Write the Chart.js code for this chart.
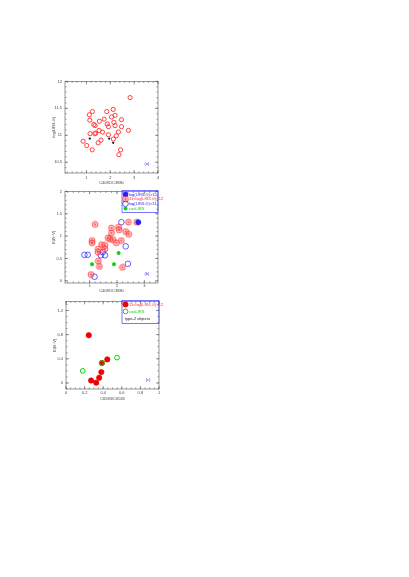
<!DOCTYPE html>
<html>
<head>
<meta charset="utf-8">
<script src="https://cdn.jsdelivr.net/npm/chart.js@4/dist/chart.umd.min.js"></script>
<style>
  body { margin: 0; background: #fff; width: 409px; height: 577px; position: relative; overflow: hidden; }
  canvas { position: absolute; left: 0; }
</style>
</head>
<body>
<canvas id="pannelloA" width="409" height="112" style="top:76px"></canvas>
<canvas id="pannelloB" width="409" height="108" style="top:186px"></canvas>
<canvas id="pannelloC" width="409" height="108" style="top:296px"></canvas>
<script>
// pannello (a): log(LIR) contro C4081/C3880
const xA = [2.83, 2.12, 1.25, 1.85, 1.12, 2.20, 2.05, 1.74, 2.47, 1.14, 1.54, 2.15, 1.31, 1.36, 1.87, 2.20, 2.47, 1.92,
            1.53, 2.76, 1.67, 2.34, 1.39, 1.15, 1.35, 1.92, 2.25, 2.13, 1.61, 0.86, 1.49, 1.01, 1.24, 2.43, 2.36];
const yA = [11.70, 11.48, 11.44, 11.44, 11.38, 11.37, 11.34, 11.30, 11.29, 11.28, 11.26, 11.24, 11.20, 11.18, 11.21, 11.18, 11.16, 11.16,
            11.09, 11.09, 11.06, 11.06, 11.04, 11.03, 11.03, 11.01, 10.99, 10.93, 10.91, 10.89, 10.86, 10.81, 10.73, 10.73, 10.64];
// limiti superiori (frecce nere)
const xLimA = [1.14, 1.95, 2.12];
const yLimA = [10.94, 10.94, 10.86];
const tickXA = [1, 2, 3, 4];
const tickYA = [10.5, 11, 11.5, 12];

// pannello (b): E(B-V) contro C4081/C3880
const xBrossi = [1.20, 2.42, 2.72, 1.80, 2.06, 2.08, 1.80, 2.32, 2.43, 1.09, 1.09, 1.68, 1.74, 1.86, 2.16, 1.98, 1.44,
                 1.56, 1.32, 1.56, 1.30, 1.32, 1.36, 2.20, 1.05];
const yBrossi = [1.26, 1.31, 1.31, 1.18, 1.20, 1.14, 1.07, 1.10, 1.04, 0.90, 0.85, 0.96, 0.93, 0.92, 0.90, 0.85, 0.81,
                 0.79, 0.71, 0.71, 0.64, 0.44, 0.32, 0.30, 0.14];
const xBpieni = [2.78];
const yBpieni = [1.31];
const xBvuoti = [2.16, 2.32, 0.81, 0.93, 1.48, 1.41, 1.56, 2.40, 1.18];
const yBvuoti = [1.31, 0.77, 0.58, 0.58, 0.64, 0.57, 0.57, 0.38, 0.09];
const xBverdi = [2.06, 1.09, 1.89];
const yBverdi = [0.62, 0.37, 0.37];
const tickXB = [1, 2, 3];
const tickYB = [0, 0.5, 1, 1.5, 2];

// pannello (c): E(B-V) contro C6583/C6563
const xCrossi = [0.245, 0.444, 0.386, 0.38, 0.357, 0.27, 0.325];
const yCrossi = [0.79, 0.39, 0.33, 0.18, 0.086, 0.04, 0.005];
const xCverdi = [0.548, 0.386, 0.18];
const yCverdi = [0.42, 0.33, 0.20];
const tickXC = [0, 0.2, 0.4, 0.6, 0.8, 1];
const tickYC = [0, 0.4, 0.8, 1.2];

const ROSSO = "rgb(255,45,45)";
const BLU = "rgb(30,30,255)";
const VERDE = "rgb(0,215,0)";
const FONT = "'Liberation Sans', 'DejaVu Sans', sans-serif";
const GRIGIO = "#444";

const punti = (xs, ys) => xs.map((x, i) => ({ x: x, y: ys[i] }));

// cerchio rosso con stellina dentro (pannello b)
function marcaStella() {
    const c = document.createElement("canvas");
    c.width = 8; c.height = 8;
    const g = c.getContext("2d");
    g.strokeStyle = ROSSO;
    g.fillStyle = "rgba(255,150,150,0.25)";
    g.lineWidth = 0.8;
    g.beginPath(); g.arc(4, 4, 2.9, 0, Math.PI * 2); g.fill(); g.stroke();
    g.lineWidth = 0.6;
    for (let k = 0; k < 3; k++) {
        const a = k * Math.PI / 3 + Math.PI / 2;
        g.beginPath();
        g.moveTo(4 - 1.5 * Math.cos(a), 4 - 1.5 * Math.sin(a));
        g.lineTo(4 + 1.5 * Math.cos(a), 4 + 1.5 * Math.sin(a));
        g.stroke();
    }
    return c;
}

// cornice con tacche verso l'interno sui 4 lati, etichetta e legenda
const cornice = {
    id: "cornice",
    beforeDatasetsDraw(chart, args, o) {
        const { ctx, chartArea: a, scales: { x, y } } = chart;
        ctx.save();
        ctx.strokeStyle = "#555";
        ctx.lineWidth = 0.6;
        ctx.strokeRect(a.left, a.top, a.right - a.left, a.bottom - a.top);
        const tacche = (scala, passo, lung, orizz) => {
            const i0 = Math.ceil(scala.min / passo - 1e-6), i1 = Math.floor(scala.max / passo + 1e-6);
            for (let i = i0; i <= i1; i++) {
                const p = scala.getPixelForValue(i * passo);
                ctx.beginPath();
                if (orizz) {
                    ctx.moveTo(p, a.bottom); ctx.lineTo(p, a.bottom - lung);
                    ctx.moveTo(p, a.top); ctx.lineTo(p, a.top + lung);
                } else {
                    ctx.moveTo(a.left, p); ctx.lineTo(a.left + lung, p);
                    ctx.moveTo(a.right, p); ctx.lineTo(a.right - lung, p);
                }
                ctx.stroke();
            }
        };
        tacche(x, o.minX, 1.5, true);
        tacche(x, o.maxX, 3, true);
        tacche(y, o.minY, 1.5, false);
        tacche(y, o.maxY, 3, false);
        ctx.restore();
    },
    afterDraw(chart, args, o) {
        const { ctx, chartArea: a } = chart;
        ctx.save();
        ctx.font = "4px " + FONT;
        ctx.fillStyle = BLU;
        ctx.textAlign = "center";
        ctx.textBaseline = "middle";
        ctx.fillText(o.etichetta, a.right - 11, a.bottom - 9);
        if (o.voci) {
            const x0 = a.right - o.larghezza, y0 = a.top - 1;
            ctx.strokeStyle = BLU;
            ctx.lineWidth = 0.6;
            ctx.strokeRect(x0, y0, o.larghezza, o.altezza);
            ctx.textAlign = "left";
            o.voci.forEach((v, i) => {
                const y = y0 + o.primo + i * o.passo;
                if (v.dataset != null) {
                    const ds = chart.data.datasets[v.dataset];
                    ctx.fillStyle = ds.backgroundColor;
                    ctx.strokeStyle = ds.borderColor;
                    ctx.lineWidth = ds.borderWidth;
                    Chart.helpers.drawPoint(ctx, { pointStyle: ds.pointStyle, radius: ds.pointRadius, rotation: 0, borderWidth: ds.borderWidth }, x0 + 3.5, y);
                }
                ctx.fillStyle = v.colore;
                ctx.fillText(v.testo, x0 + (v.dataset != null ? 7 : 3), y);
            });
        }
        ctx.restore();
    }
};
Chart.register(cornice);

function opzioni(p) {
    const fTick = { size: 4, family: FONT };
    return {
        responsive: false,
        animation: false,
        events: [],
        layout: { padding: p.padding },
        plugins: {
            legend: { display: false },
            tooltip: { enabled: false },
            cornice: p.cornice
        },
        scales: {
            x: {
                type: "linear", min: p.xMin, max: p.xMax,
                grid: { display: false, drawTicks: false },
                border: { display: false },
                afterBuildTicks: s => { s.ticks = p.tickX.map(v => ({ value: v })); },
                afterFit: s => { s.height = p.altX; },
                ticks: { autoSkip: false, maxRotation: 0, padding: p.padTickX, font: fTick, color: GRIGIO, callback: v => String(v) },
                title: { display: true, text: p.titoloX, font: fTick, color: GRIGIO, padding: { top: 0, bottom: p.padTitoloX } }
            },
            y: {
                type: "linear", min: p.yMin, max: p.yMax,
                grid: { display: false, drawTicks: false },
                border: { display: false },
                afterBuildTicks: s => { s.ticks = p.tickY.map(v => ({ value: v })); },
                afterFit: s => { s.width = 25; },
                ticks: { autoSkip: false, padding: 3, font: fTick, color: GRIGIO, callback: v => String(v) },
                title: { display: true, text: p.titoloY, font: fTick, color: GRIGIO, padding: { top: 11.6, bottom: 0 } }
            }
        }
    };
}

const LOGLIR = "log(LIR/L\u2299)";

new Chart(document.getElementById("pannelloA"), {
    type: "scatter",
    data: {
        datasets: [
            { data: punti(xA, yA), pointStyle: "circle", pointRadius: 2.1, borderWidth: 0.9,
              borderColor: ROSSO, backgroundColor: "rgba(0,0,0,0)" },
            { data: punti(xLimA, yLimA), pointStyle: "triangle", rotation: 180, pointRadius: 1.2, borderWidth: 0.5,
              borderColor: "#000", backgroundColor: "#000" }
        ]
    },
    options: opzioni({
        padding: { left: 40, right: 251, top: 5, bottom: 0 },
        xMin: 0.1, xMax: 4, yMin: 10.3, yMax: 12,
        tickX: tickXA, tickY: tickYA, altX: 15, padTickX: 2, padTitoloX: 3,
        titoloX: "C4081/C3880", titoloY: LOGLIR,
        cornice: { minX: 0.2, maxX: 1, minY: 0.1, maxY: 0.5, etichetta: "(a)" }
    })
});

new Chart(document.getElementById("pannelloB"), {
    type: "scatter",
    data: {
        datasets: [
            { data: punti(xBpieni, yBpieni), pointStyle: "circle", pointRadius: 2.5, borderWidth: 0.8,
              borderColor: BLU, backgroundColor: BLU },
            { data: punti(xBrossi, yBrossi), pointStyle: marcaStella(), pointRadius: 3, borderWidth: 0.8,
              borderColor: ROSSO, backgroundColor: "rgba(255,150,150,0.25)" },
            { data: punti(xBvuoti, yBvuoti), pointStyle: "circle", pointRadius: 2.8, borderWidth: 0.7,
              borderColor: BLU, backgroundColor: "rgba(0,0,0,0)" },
            { data: punti(xBverdi, yBverdi), pointStyle: "circle", pointRadius: 1.7, borderWidth: 0.6,
              borderColor: VERDE, backgroundColor: VERDE }
        ]
    },
    options: opzioni({
        padding: { left: 40, right: 251, top: 4, bottom: 0 },
        xMin: 0.1, xMax: 3.5, yMin: -0.05, yMax: 2,
        tickX: tickXB, tickY: tickYB, altX: 11, padTickX: 0.6, padTitoloX: 1,
        titoloX: "C4081/C3880", titoloY: "E(B\u2212V)",
        cornice: {
            minX: 0.2, maxX: 1, minY: 0.1, maxY: 0.5, etichetta: "(b)",
            larghezza: 36, altezza: 22, primo: 4, passo: 4.7,
            voci: [
                { dataset: 0, testo: LOGLIR + ">12", colore: BLU },
                { dataset: 1, testo: "11<" + LOGLIR + "<12", colore: ROSSO },
                { dataset: 2, testo: LOGLIR + "<11", colore: BLU },
                { dataset: 3, testo: "cool-IRS", colore: VERDE }
            ]
        }
    })
});

new Chart(document.getElementById("pannelloC"), {
    type: "scatter",
    data: {
        datasets: [
            { data: punti(xCverdi, yCverdi), pointStyle: "circle", pointRadius: 2.4, borderWidth: 1,
              borderColor: VERDE, backgroundColor: "rgba(0,0,0,0)" },
            { data: punti(xCrossi, yCrossi), pointStyle: "circle", pointRadius: 2.7, borderWidth: 0.6,
              borderColor: "rgb(235,0,0)", backgroundColor: "rgb(240,0,0)" }
        ]
    },
    options: opzioni({
        padding: { left: 41, right: 250, top: 4, bottom: 0 },
        xMin: 0, xMax: 1, yMin: -0.1, yMax: 1.35,
        tickX: tickXC, tickY: tickYC, altX: 15, padTickX: 1.9, padTitoloX: 2.3,
        titoloX: "C6583/C6563", titoloY: "E(B\u2212V)",
        cornice: {
            minX: 0.05, maxX: 0.2, minY: 0.1, maxY: 0.4, etichetta: "(c)",
            larghezza: 37, altezza: 23, primo: 4, passo: 7,
            voci: [
                { dataset: 1, testo: "11<" + LOGLIR + "<12", colore: ROSSO },
                { dataset: 0, testo: "cool-IRS", colore: VERDE },
                { dataset: null, testo: "type-2 objects", colore: "#222" }
            ]
        }
    })
});
</script>
</body>
</html>
